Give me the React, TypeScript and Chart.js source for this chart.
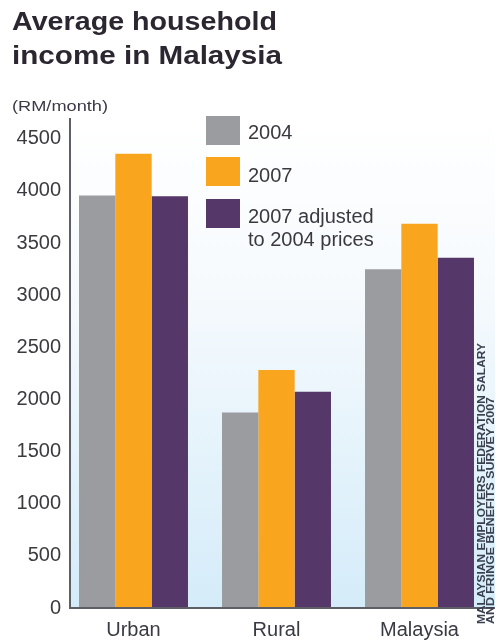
import React, { useEffect, useRef } from "react";
import { Chart, registerables } from "chart.js";

Chart.register(...registerables);

const categories = ["Urban", "Rural", "Malaysia"];
const income2004 = [3956, 1875, 3249];
const income2007 = [4356, 2283, 3686];
const income2007Adj = [3950, 2075, 3360];
const seriesLabels = ["2004", "2007", "2007 adjusted\nto 2004 prices"];
const seriesColors = ["#9b9c9f", "#f9a51d", "#553769"];
const yTickValues = [0, 500, 1000, 1500, 2000, 2500, 3000, 3500, 4000, 4500];
const yMax = 4700;
const titleLines = ["Average household", "income in Malaysia"];
const unitLabel = "(RM/month)";
const sourceLines = ["MALAYSIAN EMPLOYERS FEDERATION SALARY", "AND FRINGE BENEFITS SURVEY 2007"];

const FONT = "Arial, 'Liberation Sans', Helvetica, sans-serif";

function fitText(ctx: CanvasRenderingContext2D, text: string, x: number, y: number, width: number) {
  const w = ctx.measureText(text).width;
  ctx.save();
  ctx.translate(x, y);
  ctx.scale(width / w, 1);
  ctx.fillText(text, 0, 0);
  ctx.restore();
}

const decorPlugin = {
  id: "decor",
  beforeDraw(chart: any) {
    const { ctx, chartArea, scales } = chart;
    const top = scales.y.getPixelForValue(yMax);
    const left = chartArea.left + 8;
    const right = chartArea.right + 4;
    ctx.save();
    ctx.fillStyle = "#ffffff";
    ctx.fillRect(0, 0, chart.width, chart.height);
    const g = ctx.createLinearGradient(0, top, 0, chartArea.bottom);
    g.addColorStop(0, "#ffffff");
    g.addColorStop(0.35, "#f6fafd");
    g.addColorStop(1, "#d4ecf9");
    ctx.fillStyle = g;
    ctx.fillRect(left, top, right - left, chartArea.bottom - top);
    ctx.restore();
  },
  afterDatasetsDraw(chart: any) {
    const { ctx, chartArea, scales } = chart;
    const top = scales.y.getPixelForValue(yMax);
    const left = chartArea.left + 8;
    const right = chartArea.right + 4;
    ctx.save();
    ctx.strokeStyle = "#5d5e66";
    ctx.lineWidth = 2;
    ctx.beginPath();
    ctx.moveTo(left, top);
    ctx.lineTo(left, chartArea.bottom);
    ctx.lineTo(right, chartArea.bottom);
    ctx.stroke();
    ctx.restore();
  },
  afterDraw(chart: any) {
    const { ctx } = chart;
    ctx.save();
    // title
    ctx.fillStyle = "#2b2630";
    ctx.font = `bold 25px ${FONT}`;
    ctx.textBaseline = "alphabetic";
    ctx.textAlign = "left";
    fitText(ctx, titleLines[0], 12, 30, 265);
    fitText(ctx, titleLines[1], 12, 64, 270);
    // unit
    ctx.fillStyle = "#3d3848";
    ctx.font = `15px ${FONT}`;
    fitText(ctx, unitLabel, 12, 111, 96);
    // legend
    const boxes = [
      { y: 116, h: 29 },
      { y: 157, h: 29 },
      { y: 199, h: 29 },
    ];
    const baselines = [[139], [181.5], [223, 245.5]];
    ctx.font = `20px ${FONT}`;
    seriesLabels.forEach((lab, i) => {
      ctx.fillStyle = seriesColors[i];
      ctx.fillRect(206, boxes[i].y, 34, boxes[i].h);
      ctx.fillStyle = "#3b3940";
      lab.split("\n").forEach((line, j) => {
        ctx.fillText(line, 248, baselines[i][j]);
      });
    });
    // source
    ctx.fillStyle = "#3a4050";
    ctx.font = `bold 10px ${FONT}`;
    const lens = [281, 227];
    const xs = [485, 493.5];
    sourceLines.forEach((line, i) => {
      ctx.save();
      ctx.translate(xs[i], 624);
      ctx.rotate(-Math.PI / 2);
      const w = ctx.measureText(line).width;
      ctx.scale(lens[i] / w, 1);
      ctx.fillText(line, 0, 0);
      ctx.restore();
    });
    ctx.restore();
  },
};

export default function App() {
  const ref = useRef<HTMLCanvasElement | null>(null);
  useEffect(() => {
    if (!ref.current) return;
    const chart = new Chart(ref.current, {
      type: "bar",
      data: {
        labels: categories,
        datasets: [
          { label: "2004", data: income2004, backgroundColor: seriesColors[0] },
          { label: "2007", data: income2007, backgroundColor: seriesColors[1] },
          { label: "2007 adjusted to 2004 prices", data: income2007Adj, backgroundColor: seriesColors[2] },
        ],
      },
      options: {
        animation: false,
        responsive: false,
        maintainAspectRatio: false,
        layout: { padding: { top: 118, right: 9, left: 0, bottom: 0 } },
        datasets: { bar: { categoryPercentage: 0.762, barPercentage: 1 } },
        plugins: {
          legend: { display: false },
          tooltip: { enabled: false },
          title: { display: false },
        },
        scales: {
          x: {
            grid: { display: false, drawTicks: false },
            border: { display: false },
            ticks: { color: "#3a3a44", font: { family: FONT, size: 20 }, padding: 10 },
            afterFit: (s: any) => { s.height = 33; },
          },
          y: {
            min: 0,
            max: yMax,
            grid: { display: false, drawTicks: false },
            border: { display: false },
            ticks: {
              color: "#3b3a3f",
              font: { family: FONT, size: 20 },
              padding: 1,
              callback: (v: any) => String(v),
            },
            afterBuildTicks: (s: any) => { s.ticks = yTickValues.map((v) => ({ value: v })); },
            afterFit: (s: any) => { s.width = 62; },
          },
        },
      },
      plugins: [decorPlugin],
    });
    return () => chart.destroy();
  }, []);
  return (
    <div style={{ position: "absolute", left: 0, top: 0, width: 500, height: 641 }}>
      <canvas ref={ref} width={500} height={641} style={{ width: 500, height: 641, display: "block" }} />
    </div>
  );
}
